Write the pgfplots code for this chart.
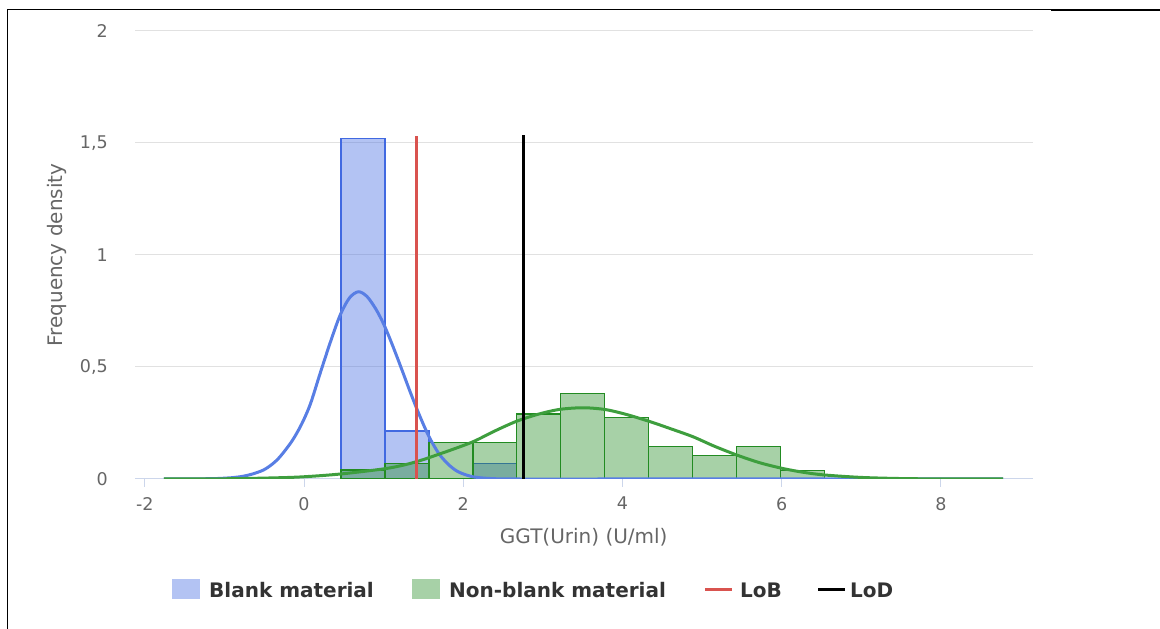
\documentclass[border=0pt]{standalone}
\usepackage{fontspec}
\setmainfont{DejaVu Sans}
\usepackage{pgfplots}
\pgfplotsset{compat=1.18}
\definecolor{blueC}{RGB}{65,105,225}
\definecolor{greenC}{RGB}{34,139,34}
\definecolor{blueCurve}{RGB}{88,126,228}
\definecolor{greenCurve}{RGB}{62,158,62}
\definecolor{lobC}{RGB}{217,83,79}
\definecolor{axisC}{RGB}{204,214,235}
\definecolor{gridC}{RGB}{225,225,225}
\definecolor{labelC}{RGB}{102,102,102}
\definecolor{legC}{RGB}{51,51,51}
\begin{document}
\begin{tikzpicture}[x=1pt,y=1pt]
\path[use as bounding box] (0,0) rectangle (1160,629);
\draw[black, line width=1pt] (7,0) -- (7,619) -- (1160,619);
\draw[black, line width=2.5pt] (1051,619) -- (1160,619);
\begin{axis}[at={(135pt,150pt)}, anchor=south west, scale only axis,
  width=897.5pt, height=448pt,
  xmin=-2.123, xmax=9.15, ymin=0, ymax=2,
  axis x line*=bottom, axis y line*=left,
  x axis line style={axisC, line width=1pt, -},
  y axis line style={draw=none},
  xtick={-2,0,2,4,6,8}, xticklabels={-2,0,2,4,6,8},
  ytick={0,0.5,1,1.5,2}, yticklabels={0,{0,5},1,{1,5},2},
  tick align=outside, major tick length=8pt,
  xtick style={axisC, line width=1pt},
  ytick style={draw=none},
  ymajorgrids, grid style={gridC, line width=1pt},
  xticklabel style={font=\fontsize{17.5}{20}\selectfont, text=labelC, inner sep=0pt, anchor=north, yshift=-10pt},
  yticklabel style={font=\fontsize{17.5}{20}\selectfont, text=labelC, inner sep=0pt, anchor=east, xshift=-19pt},
  xlabel={GGT(Urin) (U/ml)},
  ylabel={Frequency density},
  xlabel style={at={(axis description cs:0.5,-0.1295)}, anchor=center, font=\fontsize{20}{24}\selectfont, text=labelC},
  ylabel style={at={(axis description cs:-0.0869,0.5)}, anchor=center, font=\fontsize{20}{24}\selectfont, text=labelC},
]
\addplot[ybar interval, draw=blueC, fill=blueC, fill opacity=0.4, line width=1.3pt] coordinates {
(0.465,1.521) (1.017,0.214) (1.569,0) (2.121,0.070) (2.673,0) (3.225,0) (3.777,0) (4.329,0) (4.881,0) (5.433,0) (5.985,0) (6.537,0)};
\addplot[ybar interval, draw=greenC, fill=greenC, fill opacity=0.4, line width=1.3pt] coordinates {
(0.465,0.040) (1.017,0.070) (1.569,0.162) (2.121,0.162) (2.673,0.290) (3.225,0.383) (3.777,0.275) (4.329,0.144) (4.881,0.106) (5.433,0.146) (5.985,0.037) (6.537,0)};
\addplot[blueCurve, line width=3pt, smooth, line join=round] coordinates {
(-1.76,0) (-1.4,0.0005) (-1.1,0.002) (-0.9,0.006) (-0.77,0.012) (-0.65,0.022) (-0.51,0.040) (-0.40,0.066) (-0.30,0.100) (-0.15,0.170) (-0.03,0.245) (0.08,0.335) (0.201,0.470) (0.33,0.610) (0.452,0.730) (0.57,0.808) (0.683,0.836) (0.79,0.815) (0.90,0.760) (0.996,0.695) (1.08,0.625) (1.165,0.548) (1.25,0.468) (1.33,0.392) (1.415,0.315) (1.50,0.243) (1.583,0.180) (1.70,0.110) (1.834,0.058) (1.95,0.030) (2.12,0.010) (2.35,0.002) (2.7,0) (4.0,0) (8.78,0)};
\addplot[greenCurve, line width=3pt, smooth, line join=round] coordinates {
(-1.76,0) (-1.0,0.001) (-0.5,0.004) (-0.05,0.009) (0.45,0.022) (0.996,0.045) (1.25,0.062) (1.457,0.082) (1.583,0.097) (1.85,0.13) (2.127,0.167) (2.40,0.215) (2.672,0.258) (2.95,0.29) (3.216,0.311) (3.509,0.318) (3.785,0.310) (4.05,0.288) (4.347,0.256) (4.6,0.225) (4.883,0.189) (5.15,0.147) (5.436,0.107) (5.72,0.073) (6.0,0.048) (6.27,0.030) (6.536,0.018) (7.0,0.007) (7.5,0.002) (8.0,0.0005) (8.78,0)};
\addplot[lobC, line width=3pt] coordinates {(1.412,0) (1.412,1.531)};
\addplot[black, line width=3pt] coordinates {(2.762,0) (2.762,1.536)};
\end{axis}
\fill[blueC!40!white] (172,30) rectangle (200,50);
\node[anchor=base west, inner sep=0pt, text=legC, font=\bfseries\fontsize{20}{24}\selectfont] at (209,31.7) {Blank material};
\fill[greenC!40!white] (412,30) rectangle (440,50);
\node[anchor=base west, inner sep=0pt, text=legC, font=\bfseries\fontsize{20}{24}\selectfont] at (449,31.7) {Non-blank material};
\draw[lobC, line width=3pt] (705,39) -- (732,39);
\node[anchor=base west, inner sep=0pt, text=legC, font=\bfseries\fontsize{20}{24}\selectfont] at (740,31.7) {LoB};
\draw[black, line width=3pt] (818,39) -- (845,39);
\node[anchor=base west, inner sep=0pt, text=legC, font=\bfseries\fontsize{20}{24}\selectfont] at (850,31.7) {LoD};
\end{tikzpicture}
\end{document}
